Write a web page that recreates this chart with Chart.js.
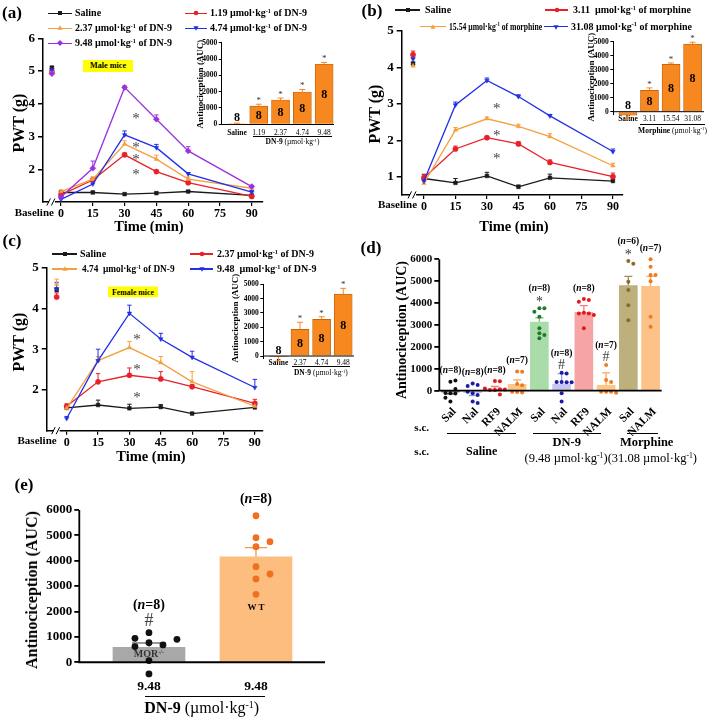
<!DOCTYPE html>
<html><head><meta charset="utf-8">
<script src="https://cdn.jsdelivr.net/npm/chart.js@4.4.1/dist/chart.umd.min.js"></script>
<style>
html,body{margin:0;padding:0;background:#fff;}
#root{position:relative;width:709px;height:721px;overflow:hidden;font-family:"Liberation Serif","Times New Roman",serif;color:#000;}
#root canvas{position:absolute;left:0;top:0;}
.t{position:absolute;white-space:nowrap;line-height:1;}
sup{font-size:0.62em;vertical-align:0;position:relative;top:-0.55em;line-height:0;}
</style></head><body><div id="root"></div>
<script>
// ================= DATA =================
const timePoints = [0, 15, 30, 45, 60, 90];
const timeTicks = [0, 15, 30, 45, 60, 75, 90];

// (a) male mice, DN-9 (PWT, g)
const aSaline = [1.29, 1.29, 1.24, 1.27, 1.32, 1.20];
const aDN119  = [1.22, 1.67, 2.44, 1.93, 1.59, 1.17];
const aDN237  = [1.32, 1.70, 2.77, 2.31, 1.70, 1.42];
const aDN474  = [1.08, 1.55, 3.05, 2.66, 1.86, 1.30];
const aDN948  = [1.15, 2.03, 4.50, 3.53, 2.56, 1.47];
const aSalineSem = [0.04, 0.04, 0.03, 0.03, 0.03, 0.03];
const aDN119Sem  = [0.05, 0.06, 0.06, 0.04, 0.05, 0.05];
const aDN237Sem  = [0.05, 0.07, 0.10, 0.12, 0.06, 0.05];
const aDN474Sem  = [0.04, 0.08, 0.12, 0.10, 0.04, 0.05];
const aDN948Sem  = [0.04, 0.22, 0.05, 0.13, 0.13, 0.04];
const aBaseline    = [5.10, 4.98, 5.00, 5.03, 4.92];
const aBaselineSem = [0.05, 0.05, 0.05, 0.05, 0.05];
const aYTicks = [2, 3, 4, 5, 6];
const aInsetCats = ['Saline', '1.19', '2.37', '4.74', '9.48'];
const aInsetAuc  = [30, 1120, 1490, 1980, 3680];
const aInsetSem  = [40, 110, 120, 150, 110];
const aInsetN    = [8, 8, 8, 8, 8];
const aInsetSig  = ['', '*', '*', '*', '*'];

// (b) morphine (PWT, g)
const bSaline = [0.95, 0.83, 1.02, 0.72, 0.97, 0.88];
const bM311   = [0.97, 1.76, 2.07, 1.90, 1.39, 1.00];
const bM1554  = [0.82, 2.28, 2.59, 2.38, 2.10, 1.30];
const bM3108  = [0.88, 2.97, 3.64, 3.20, 2.67, 1.69];
const bSalineSem = [0.10, 0.12, 0.10, 0.05, 0.10, 0.05];
const bM311Sem   = [0.10, 0.08, 0.04, 0.06, 0.07, 0.10];
const bM1554Sem  = [0.05, 0.07, 0.05, 0.06, 0.08, 0.07];
const bM3108Sem  = [0.05, 0.08, 0.07, 0.05, 0.04, 0.07];
const bBaseline    = [4.10, 4.35, 4.04, 4.23];
const bBaselineSem = [0.05, 0.10, 0.04, 0.05];
const bYTicks = [1, 2, 3, 4, 5];
const bInsetCats = ['Saline', '3.11', '15.54', '31.08'];
const bInsetAuc  = [-250, 1520, 3380, 4830];
const bInsetSem  = [290, 180, 100, 130];
const bInsetN    = [8, 8, 8, 8];
const bInsetSig  = ['', '*', '*', '*'];

// (c) female mice, DN-9 (PWT, g)
const cSaline = [1.56, 1.63, 1.55, 1.58, 1.42, 1.57];
const cDN237  = [1.60, 2.20, 2.36, 2.27, 2.08, 1.67];
const cDN474  = [1.55, 2.72, 3.04, 2.67, 2.20, 1.60];
const cDN948  = [1.30, 2.72, 3.88, 3.25, 2.80, 2.06];
const cSalineSem = [0.05, 0.12, 0.10, 0.06, 0.03, 0.05];
const cDN237Sem  = [0.06, 0.20, 0.18, 0.18, 0.05, 0.10];
const cDN474Sem  = [0.05, 0.10, 0.15, 0.15, 0.25, 0.10];
const cDN948Sem  = [0.05, 0.28, 0.20, 0.14, 0.15, 0.20];
const cBaseline    = [4.45, 4.28, 4.60, 4.48];
const cBaselineSem = [0.05, 0.10, 0.12, 0.16];
const cYTicks = [2, 3, 4, 5];
const cInsetCats = ['Saline', '2.37', '4.74', '9.48'];
const cInsetAuc  = [-50, 1860, 2560, 4320];
const cInsetSem  = [300, 490, 180, 400];
const cInsetN    = [8, 8, 8, 8];
const cInsetSig  = ['', '*', '*', '*'];
const insetYTicks = [0, 1000, 2000, 3000, 4000, 5000];

// (d) antagonists (AUC)
const dCats = ['Sal', 'Nal', 'RF9', 'NALM', 'Sal', 'Nal', 'RF9', 'NALM', 'Sal', 'NALM'];
const dMean = [-60, -90, 80, 290, 3130, 300, 3580, 250, 4800, 4770];
const dSem  = [90, 130, 110, 200, 200, 480, 300, 560, 420, 450];
const dN    = [8, 8, 8, 7, 8, 8, 8, 7, 6, 7];
const dSig  = ['', '', '', '', '*', '#', '', '#', '*', ''];
const dPoints = [
  [410, 460, -120, -130, -110, -320, -500, 80],
  [330, 260, 210, -120, -200, -500, -560, -50],
  [440, 430, 30, 60, 30, -170, 50, 100],
  [880, 860, 300, 250, -60, -80, -50],
  [3760, 3760, 3610, 3380, 2850, 2620, 2540, 2390],
  [820, 790, 400, 380, 400, 380, -120, -500],
  [4190, 4140, 4060, 3560, 3530, 3530, 3460, 2850],
  [1170, 490, -50, -50, -50, -100, 400],
  [5920, 5800, 4980, 4600, 3900, 3220],
  [6000, 5660, 5280, 5280, 5000, 3380, 2920]
];
const dYTicks = [0, 1000, 2000, 3000, 4000, 5000, 6000];

// (e) MOR-/- vs WT (AUC)
const eCats = ['9.48', '9.48'];
const eGenotype = ['MOR<sup>-/-</sup>', 'W T'];
const eMean = [590, 4150];
const eSem  = [170, 370];
const eN    = [8, 8];
const eSig  = ['#', ''];
const ePoints = [
  [774, 682, 1168, 617, 905, 945, 66, -459],
  [5774, 4908, 4751, 4554, 3766, 3478, 3281, 2677]
];

// ================= SETUP =================
const W = 709, H = 721;
const root = document.getElementById('root');
Chart.defaults.font.family = '"Liberation Serif","Times New Roman",serif';
Chart.defaults.font.weight = 'bold';
Chart.defaults.color = '#000';
Chart.defaults.animation = false;
Chart.defaults.responsive = false;
Chart.defaults.maintainAspectRatio = false;
Chart.defaults.events = [];
Chart.defaults.plugins.legend.display = false;
Chart.defaults.plugins.tooltip.enabled = false;

const COL = {blk: '#1a1a1a', red: '#e8202a', org: '#f5a040', blu: '#2030e6', pur: '#9b30e0'};

function T(x, y, html, css, anchor, rot, extra) {
  const d = document.createElement('div');
  d.className = 't'; d.innerHTML = html; d.style.cssText += (css || '');
  d.style.left = x + 'px'; d.style.top = y + 'px';
  const tx = anchor === 'l' ? '0' : anchor === 'r' ? '-100%' : '-50%';
  d.style.transform = 'translate(' + tx + ',-50%)' + (rot ? ' rotate(' + rot + 'deg)' : '') + (extra || '');
  if (extra && anchor === 'l') d.style.transformOrigin = '0 50%';
  root.appendChild(d); return d;
}
function HL(x0, x1, y, w, c) {
  const d = document.createElement('div');
  d.style.cssText = 'position:absolute;left:' + x0 + 'px;top:' + (y - w / 2) + 'px;width:' + (x1 - x0) + 'px;height:' + w + 'px;background:' + (c || '#000');
  root.appendChild(d);
}
function STAR(x, y, fs, col) { T(x, y + fs * 0.15, '*', 'font-size:' + fs + 'px;color:' + (col || '#444')); }
function marker(shape, color, cx, cy) {
  let inner;
  if (shape === 'rect') inner = '<rect x="-2" y="-2" width="4" height="4"/>';
  else if (shape === 'circle') inner = '<circle r="2.3"/>';
  else if (shape === 'tri') inner = '<polygon points="0,-2.8 2.6,1.8 -2.6,1.8"/>';
  else if (shape === 'tridown') inner = '<polygon points="0,2.8 2.6,-1.8 -2.6,-1.8"/>';
  else inner = '<polygon points="0,-3 3,0 0,3 -3,0"/>';
  const d = document.createElement('div');
  d.innerHTML = '<svg width="12" height="12" viewBox="-6 -6 12 12" fill="' + color + '">' + inner + '</svg>';
  d.style.cssText = 'position:absolute;left:' + (cx - 6) + 'px;top:' + (cy - 6) + 'px;width:12px;height:12px;line-height:0';
  root.appendChild(d);
}
function legendItem(x0, x1, y, color, shape, tx, html, sx) {
  HL(x0, x1, y, 1.3, color);
  marker(shape, color, (x0 + x1) / 2, y);
  T(tx, y, html, 'font-size:10px;font-weight:bold', 'l', 0, sx ? ' scaleX(' + sx + ')' : '');
}
const U = 'µmol·kg<sup>-1</sup>';

// ---------- plugins ----------
const errPlugin = {
  id: 'errbars',
  beforeDatasetsDraw(chart) {
    const ctx = chart.ctx;
    chart.data.datasets.forEach((ds, di) => {
      if (!ds.errors) return;
      const meta = chart.getDatasetMeta(di);
      const ys = chart.scales[meta.yAxisID];
      meta.data.forEach((el, i) => {
        const e = ds.errors[i]; if (e == null || e === 0) return;
        const raw = ds.data[i]; const v = typeof raw === 'object' ? raw.y : raw;
        const dir = v < 0 ? -1 : 1;
        const y0 = ys.getPixelForValue(v), y1 = ys.getPixelForValue(v + dir * e);
        const col = Array.isArray(ds.errColor) ? ds.errColor[i] : (ds.errColor || ds.borderColor);
        const cap = Array.isArray(ds.errCap) ? ds.errCap[i] : (ds.errCap || 3);
        ctx.save(); ctx.strokeStyle = col; ctx.lineWidth = ds.errWidth || 1.2;
        ctx.beginPath(); ctx.moveTo(el.x, y0); ctx.lineTo(el.x, y1);
        ctx.moveTo(el.x - cap, y1); ctx.lineTo(el.x + cap, y1); ctx.stroke(); ctx.restore();
      });
    });
  }
};
const brkPlugin = {
  id: 'brk',
  afterDraw(chart, a, o) {
    if (!o || o.at == null) return;
    const ctx = chart.ctx;
    const x = chart.scales.x.getPixelForValue(o.at), y = chart.chartArea.bottom;
    ctx.save(); ctx.fillStyle = '#fff'; ctx.fillRect(x - 3, y - 3, 6, 6);
    ctx.strokeStyle = '#000'; ctx.lineWidth = 1;
    ctx.beginPath(); ctx.moveTo(x - 5, y + 3.5); ctx.lineTo(x - 1.5, y - 3.5);
    ctx.moveTo(x - 0.5, y + 3.5); ctx.lineTo(x + 3, y - 3.5); ctx.stroke(); ctx.restore();
  }
};
// axis lines drawn at value 0 (x) and from top to 0 (y)
const zeroPlugin = {
  id: 'zero',
  afterDatasetsDraw(chart, a, o) {
    if (!o || !o.on) return;
    const ctx = chart.ctx, y = chart.scales.y.getPixelForValue(0), ca = chart.chartArea;
    ctx.save(); ctx.strokeStyle = '#000'; ctx.lineWidth = o.w || 1;
    ctx.beginPath(); ctx.moveTo(ca.left - (o.yAxis ? o.w / 2 : 0), y); ctx.lineTo(ca.right, y);
    if (o.yAxis) { ctx.moveTo(ca.left, ca.top); ctx.lineTo(ca.left, y); }
    ctx.stroke(); ctx.restore();
  }
};

function mk(cfg, a) {
  const c = document.createElement('canvas'); c.width = W; c.height = H; root.appendChild(c);
  cfg.options.layout = {padding: {left: a.x0 - a.yW, top: a.y0, right: W - a.x1, bottom: H - a.y1 - a.xH}};
  cfg.options.scales.x.afterFit = s => { s.height = a.xH; };
  cfg.options.scales.y.afterFit = s => { s.width = a.yW; };
  return new Chart(c, cfg);
}
function yAxis(min, max, ticks, fs, tl, bw, pad, showBorder) {
  return {type: 'linear', min: min, max: max,
    afterBuildTicks: s => { s.ticks = ticks.map(v => ({value: v})); },
    ticks: {font: {size: fs, weight: 'bold'}, padding: pad == null ? 2 : pad, color: '#000', callback: v => String(v)},
    grid: {drawOnChartArea: false, drawTicks: true, tickLength: tl, color: '#000', lineWidth: bw, offset: false},
    border: {display: showBorder !== false, color: '#000', width: bw}};
}

// ---------- line panels ----------
function linePanel(p) {
  const ds = []; const n = p.series.length;
  p.series.forEach((s, k) => {
    const st = {borderColor: s.c, backgroundColor: s.c, pointBackgroundColor: s.c, pointBorderColor: s.c,
      pointStyle: s.shape, pointRotation: s.rot || 0, pointRadius: s.r || 2.6, pointBorderWidth: 0.5,
      borderWidth: 1.3, clip: false, order: n - k, errCap: 2.2, errWidth: 1};
    ds.push(Object.assign({}, st, {type: 'line', tension: 0, data: timePoints.map((t, i) => ({x: t, y: s.vals[i]})), errors: s.sem}));
    ds.push(Object.assign({}, st, {type: 'scatter', showLine: false, data: [{x: p.baseT, y: p.baseVals[k]}], errors: [p.baseSem[k]]}));
  });
  const cfg = {type: 'line', data: {datasets: ds}, plugins: [errPlugin, brkPlugin],
    options: {plugins: {brk: {at: p.baseT}},
      scales: {
        x: {type: 'linear', min: p.xmin, max: p.xmax,
          afterBuildTicks: s => { s.ticks = timeTicks.map(v => ({value: v})); },
          ticks: {font: {size: 12, weight: 'bold'}, padding: 1, maxRotation: 0, autoSkip: false, color: '#000', callback: v => String(v)},
          grid: {drawOnChartArea: false, drawTicks: true, tickLength: 4, color: '#000', lineWidth: 1.2},
          border: {display: true, color: '#000', width: 1.5}},
        y: yAxis(p.ymin, p.ymax, p.yTicks, 13, 5, 1.5, 3)
      }}};
  const ch = mk(cfg, p.area);
  const bx = ch.scales.x.getPixelForValue(p.baseT);
  T(bx + p.baseOff, ch.chartArea.bottom + 9.5, 'Baseline', 'font-size:11px;font-weight:bold', 'r');
  return ch;
}

// ---------- inset bar panels ----------
function insetPanel(p) {
  const cfg = {type: 'bar', data: {datasets: [{type: 'bar',
      data: p.cats.map((c, i) => ({x: i, y: p.vals[i]})), errors: p.sem,
      backgroundColor: '#f7871f', borderColor: '#b85a08', borderWidth: 0.7, barThickness: 18, clip: false,
      errColor: '#f7871f', errCap: 3, errWidth: 1}]},
    plugins: [errPlugin, zeroPlugin],
    options: {plugins: {zero: {on: p.zero, w: 1}},
      scales: {
        x: {type: 'linear', offset: false, min: p.xmin, max: p.xmax,
          afterBuildTicks: s => { s.ticks = p.cats.map((c, i) => ({value: i})); },
          ticks: {autoSkip: false, maxRotation: 0, padding: p.xpad, color: '#000', callback: v => p.cats[v],
            font: c => ({size: 7.5, weight: c.index === 0 ? 'bold' : 'normal'})},
          grid: {display: false, drawTicks: false, tickLength: 0, offset: false},
          border: {display: !p.zero, color: '#000', width: 1}},
        y: yAxis(p.ymin, 5000, insetYTicks, 7.5, 3, 1, 1.5)
      }}};
  const ch = mk(cfg, p.area);
  const xs = ch.scales.x, ys = ch.scales.y;
  p.cats.forEach((c, i) => {
    const v = p.vals[i];
    const cx = xs.getPixelForValue(i);
    const yl = ys.getPixelForValue(v > 900 ? v / 2 : 450);
    T(cx, yl, String(p.n[i]), 'font-size:12px;font-weight:bold');
    if (p.sig[i]) STAR(cx, ys.getPixelForValue(v + p.sem[i]) - 5.5, 9, '#333');
  });
  T(p.title[0], p.title[1], 'Antinociception (AUC)', 'font-size:9px;font-weight:bold', 'c', -90);
  HL(p.cap[0], p.cap[1], p.cap[2], 0.8, '#000');
  T((p.cap[0] + p.cap[1]) / 2 + p.cap[4], p.cap[3], '<b>' + p.capName + '</b> (' + U + ')', 'font-size:7.5px');
  return ch;
}

// ================= PANEL (a) =================
linePanel({
  area: {x0: 43, y0: 38.3, x1: 263, y1: 202, yW: 26, xH: 20},
  xmin: -8.5, xmax: 95.3, ymin: 1, ymax: 6, yTicks: aYTicks, baseT: -4.3, baseOff: 2,
  baseVals: aBaseline, baseSem: aBaselineSem,
  series: [
    {vals: aSaline, sem: aSalineSem, c: COL.blk, shape: 'rect'},
    {vals: aDN119, sem: aDN119Sem, c: COL.red, shape: 'circle'},
    {vals: aDN237, sem: aDN237Sem, c: COL.org, shape: 'triangle'},
    {vals: aDN474, sem: aDN474Sem, c: COL.blu, shape: 'triangle', rot: 180},
    {vals: aDN948, sem: aDN948Sem, c: COL.pur, shape: 'rectRot', r: 3}
  ]
});
T(12, 12, '(a)', 'font-size:17px;font-weight:bold');
legendItem(48, 72, 13.3, COL.blk, 'rect', 75, 'Saline');
legendItem(185, 207, 13.3, COL.red, 'circle', 210, '1.19 ' + U + ' of DN-9');
legendItem(48, 72, 28.3, COL.org, 'tri', 75, '2.37 ' + U + ' of DN-9');
legendItem(185, 207, 28.3, COL.blu, 'tridown', 210, '4.74 ' + U + ' of DN-9');
legendItem(48, 72, 43.3, COL.pur, 'diamond', 75, '9.48 ' + U + ' of DN-9');
T(108, 66, 'Male mice', 'font-size:8.2px;font-weight:bold;background:#ffff00;width:50px;height:12px;line-height:12px;text-align:center');
T(19, 123, 'PWT (g)', 'font-size:16px;font-weight:bold', 'c', -90);
T(149, 226, 'Time (min)', 'font-size:14.5px;font-weight:bold');
[116, 145, 157, 172].forEach(y => STAR(136, y, 15));

// ================= PANEL (b) =================
linePanel({
  area: {x0: 401.7, y0: 31, x1: 623, y1: 194.9, yW: 26, xH: 20},
  xmin: -10.6, xmax: 94.8, ymin: 0.5, ymax: 5, yTicks: bYTicks, baseT: -5.2, baseOff: 4,
  baseVals: bBaseline, baseSem: bBaselineSem,
  series: [
    {vals: bSaline, sem: bSalineSem, c: COL.blk, shape: 'rect'},
    {vals: bM311, sem: bM311Sem, c: COL.red, shape: 'circle'},
    {vals: bM1554, sem: bM1554Sem, c: COL.org, shape: 'triangle'},
    {vals: bM3108, sem: bM3108Sem, c: COL.blu, shape: 'triangle', rot: 180}
  ]
});
T(372, 10, '(b)', 'font-size:17px;font-weight:bold');
legendItem(395, 420, 10, COL.blk, 'rect', 425, 'Saline');
legendItem(545, 568, 10, COL.red, 'circle', 573, '3.11&nbsp; ' + U + ' of morphine');
legendItem(420, 446, 26.7, COL.org, 'tri', 449, '15.54 ' + U + ' of morphine', 0.77);
legendItem(544, 568, 26.7, COL.blu, 'tridown', 571, '31.08 ' + U + ' of morphine');
T(375, 114, 'PWT (g)', 'font-size:16px;font-weight:bold', 'c', -90);
T(514, 226, 'Time (min)', 'font-size:14.5px;font-weight:bold');
[106, 132.7, 155.7].forEach(y => STAR(496.7, y, 15));

// ================= PANEL (c) =================
linePanel({
  area: {x0: 46.7, y0: 267.7, x1: 263, y1: 430.7, yW: 26, xH: 20},
  xmin: -9.56, xmax: 93.9, ymin: 1, ymax: 5, yTicks: cYTicks, baseT: -4.8, baseOff: 0,
  baseVals: cBaseline, baseSem: cBaselineSem,
  series: [
    {vals: cSaline, sem: cSalineSem, c: COL.blk, shape: 'rect'},
    {vals: cDN237, sem: cDN237Sem, c: COL.red, shape: 'circle'},
    {vals: cDN474, sem: cDN474Sem, c: COL.org, shape: 'triangle'},
    {vals: cDN948, sem: cDN948Sem, c: COL.blu, shape: 'triangle', rot: 180}
  ]
});
T(12, 240, '(c)', 'font-size:17px;font-weight:bold');
legendItem(52, 77, 254, COL.blk, 'rect', 80, 'Saline');
legendItem(190, 213, 254, COL.red, 'circle', 217, '2.37 ' + U + ' of DN-9');
legendItem(52, 77, 269, COL.org, 'tri', 82, '4.74&nbsp; ' + U + ' of DN-9', 0.93);
legendItem(190, 213, 269, COL.blu, 'tridown', 217, '9.48&nbsp; ' + U + ' of DN-9');
T(133, 291.5, 'Female mice', 'font-size:7.8px;font-weight:bold;background:#ffff00;width:50px;height:11px;line-height:11px;text-align:center');
T(19, 342, 'PWT (g)', 'font-size:16px;font-weight:bold', 'c', -90);
T(151, 456, 'Time (min)', 'font-size:14.5px;font-weight:bold');
[336.7, 366.7, 395].forEach(y => STAR(137, y, 15));

// ================= INSETS =================
insetPanel({area: {x0: 221.7, y0: 42.7, x1: 333.3, y1: 124.3, yW: 24, xH: 14},
  cats: aInsetCats, vals: aInsetAuc, sem: aInsetSem, n: aInsetN, sig: aInsetSig,
  xmin: -0.70, xmax: 4.42, ymin: 0, zero: false, xpad: 4,
  title: [200, 84], cap: [253, 332, 136.7, 142.3, 0], capName: 'DN-9'});
insetPanel({area: {x0: 613.3, y0: 41.7, x1: 704, y1: 114.5, yW: 24, xH: 14},
  cats: bInsetCats, vals: bInsetAuc, sem: bInsetSem, n: bInsetN, sig: bInsetSig,
  xmin: -0.68, xmax: 3.53, ymin: -200, zero: true, xpad: 0,
  title: [591, 76.7], cap: [640, 705, 124.5, 130.5, 0], capName: 'Morphine'});
insetPanel({area: {x0: 263.3, y0: 284.3, x1: 354, y1: 358.9, yW: 24, xH: 14},
  cats: cInsetCats, vals: cInsetAuc, sem: cInsetSem, n: cInsetN, sig: cInsetSig,
  xmin: -0.70, xmax: 3.50, ymin: -200, zero: true, xpad: 0,
  title: [235, 318], cap: [291.7, 350, 366.7, 373.3, 0], capName: 'DN-9'});

// ================= swarm helper =================
function swarm(vals, pxPerVal, step, rowH) {
  const placed = [], offs = [];
  vals.forEach(v => {
    const y = v * pxPerVal;
    for (let k = 0; k < 60; k++) {
      const cand = k === 0 ? 0 : (k % 2 ? Math.ceil(k / 2) : -Math.ceil(k / 2)) * step;
      if (!placed.some(p => Math.abs(p.y - y) < rowH && Math.abs(p.x - cand) < step * 0.9)) {
        placed.push({x: cand, y: y}); offs.push(cand); break;
      }
    }
  });
  return offs;
}

function dotBarPanel(p) {
  const unitsPerPx = (p.xmax - p.xmin) / (p.area.x1 - p.area.x0);
  const pxPerVal = (p.area.y1 - p.area.y0) / (p.ymax - p.ymin);
  const pts = [], pcol = [];
  p.points.forEach((arr, i) => {
    const offs = swarm(arr, pxPerVal, p.step, p.rowH);
    arr.forEach((v, j) => { pts.push({x: i + offs[j] * unitsPerPx, y: v}); pcol.push(p.dotColors[i]); });
  });
  const cfg = {type: 'bar', data: {datasets: [
      {type: 'scatter', order: 0, data: pts, pointRadius: p.r, pointBackgroundColor: pcol, pointBorderColor: pcol, pointBorderWidth: 0, clip: false},
      {type: 'bar', order: 1, data: p.mean.map((v, i) => ({x: i, y: v})), errors: p.sem,
        backgroundColor: p.barColors, borderWidth: 0, barThickness: p.bw, clip: false,
        errColor: p.errColors, errCap: p.cap, errWidth: 1.3}
    ]},
    plugins: [errPlugin, zeroPlugin],
    options: {plugins: {zero: {on: true, w: 1.8, yAxis: true}},
      scales: {
      x: {type: 'linear', offset: false, min: p.xmin, max: p.xmax,
        afterBuildTicks: s => { s.ticks = p.cats.map((c, i) => ({value: i})); },
        ticks: {autoSkip: false, minRotation: p.rot, maxRotation: p.rot, padding: p.xpad, labelOffset: p.lblOff || 0, color: '#000',
          font: {size: p.xfs, weight: 'bold'}, callback: v => p.cats[v]},
        grid: {display: false, drawTicks: false, tickLength: 0, offset: false},
        border: {display: false}},
      y: yAxis(p.ymin, p.ymax, p.yTicks, p.yfs, 5, 1.8, 2, false)
    }}};
  const ch = mk(cfg, p.area);
  const xs = ch.scales.x, ys = ch.scales.y;
  p.cats.forEach((c, i) => {
    const topVal = Math.max(Math.max.apply(null, p.points[i]), p.mean[i] + p.sem[i]);
    const ty = ys.getPixelForValue(topVal);
    const cx = xs.getPixelForValue(i);
    if (p.sig[i]) {
      if (p.sig[i] === '*') STAR(cx, ty - p.sigOff, p.sigFs, '#333');
      else T(cx, ty - p.sigOff, '#', 'font-size:' + p.sigFs + 'px;color:#444');
    }
    T(cx, ty - (p.sig[i] ? p.nOffSig : p.nOff), '(<i>n</i>=' + p.n[i] + ')', 'font-size:' + p.nfs + 'px;font-weight:bold');
  });
  return ch;
}

// ================= PANEL (d) =================
dotBarPanel({
  area: {x0: 439.3, y0: 259.3, x1: 661.7, y1: 406, yW: 38, xH: 30},
  cats: dCats, mean: dMean, sem: dSem, n: dN, sig: dSig, points: dPoints,
  xmin: -0.5, xmax: 9.5, ymin: -700, ymax: 6000, yTicks: dYTicks,
  barColors: ['#555555', '#c6c6f2', '#f7a8a8', '#fcc68a', '#a9dca9', '#c6c6f2', '#f6a4a4', '#fcc68a', '#bdb07c', '#fcc287'],
  errColors: ['#333333', '#9a9ae0', '#f08080', '#f5a860', '#7cc47c', '#9a9ae0', '#f08080', '#f5a860', '#9c8f58', '#f5a860'],
  dotColors: ['#111111', '#1c1ca6', '#e41a1a', '#f07a1e', '#1e7a2a', '#1c1ca6', '#e41a1a', '#f07a1e', '#8a6a2a', '#f07a1e'],
  bw: 18, cap: 4, r: 2, step: 5, rowH: 4.5, rot: 45, xpad: -1, lblOff: 4, xfs: 11.5, yfs: 11,
  sigOff: 8, nOff: 10, nOffSig: 19, sigFs: 14, nfs: 9.5
});
T(371, 247, '(d)', 'font-size:17px;font-weight:bold');
T(402, 330, 'Antinociception (AUC)', 'font-size:14px;font-weight:bold', 'c', -90);
T(421.7, 426.7, 's.c.', 'font-size:11px;font-weight:bold');
T(421.7, 450.7, 's.c.', 'font-size:11px;font-weight:bold');
HL(447.3, 516, 433.3, 1, '#000');
HL(532.7, 600.7, 433.3, 1, '#000');
HL(626.7, 657.7, 433.3, 1, '#000');
T(481.7, 450.7, 'Saline', 'font-size:12px;font-weight:bold');
T(566.7, 442.3, 'DN-9', 'font-size:12.5px;font-weight:bold');
T(646.7, 442.3, 'Morphine', 'font-size:12.5px;font-weight:bold');
T(610.8, 458.3, '(9.48 ' + U + ')(31.08 ' + U + ')', 'font-size:12.5px');

// ================= PANEL (e) =================
const eChart = dotBarPanel({
  area: {x0: 79.3, y0: 510, x1: 325, y1: 677.5, yW: 50, xH: 20},
  cats: eCats, mean: eMean, sem: eSem, n: eN, sig: eSig, points: ePoints,
  xmin: -0.651, xmax: 1.645, ymin: -600, ymax: 6000, yTicks: dYTicks,
  barColors: ['#a8a8a8', '#fdbd7e'], errColors: ['#7a7a7a', '#f39a4a'], dotColors: ['#111111', '#f07020'],
  bw: 72, cap: [17, 11], r: 3.4, step: 14, rowH: 8, rot: 0, xpad: 1, xfs: 13.5, yfs: 13,
  sigOff: 13, nOff: 16.5, nOffSig: 28, sigFs: 18, nfs: 14
});
T(24, 484, '(e)', 'font-size:17px;font-weight:bold');
T(32, 590, 'Antinociception (AUC)', 'font-size:16px;font-weight:bold', 'c', -90);
T(eChart.scales.x.getPixelForValue(0), 654, eGenotype[0], 'font-size:10px;font-weight:bold;color:#333');
T(eChart.scales.x.getPixelForValue(1), 606.7, eGenotype[1], 'font-size:9px;font-weight:bold');
HL(145, 265, 696.7, 1, '#000');
T(201.7, 708.3, '<b>DN-9</b> (' + U + ')', 'font-size:16px');
</script>
</body></html>
